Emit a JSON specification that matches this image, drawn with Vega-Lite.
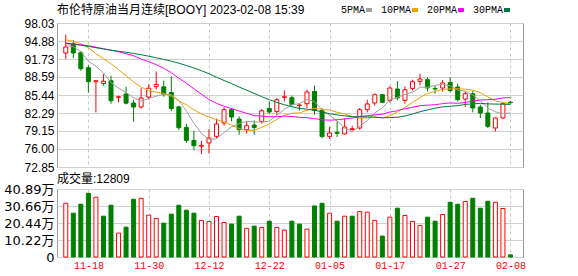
{
  "$schema": "https://vega.github.io/schema/vega-lite/v6.json",
  "padding": {"left": 3, "top": 3, "right": 0, "bottom": 0},
  "spacing": 22,
  "bounds": "flush",
  "background": "#ffffff",
  "config": {
    "view": {"stroke": "#9a9a9a", "strokeWidth": 1},
    "title": {"fontWeight": "normal", "color": "#000000", "anchor": "start", "frame": "group"}
  },
  "data": {"values": [
    {"i":0,"d":"11-15","o":92.78,"h":95.98,"l":91.73,"c":93.83,"v":323300,"vu":"u","ma5":94.06,"ma10":95.11,"ma20":94.41,"ma30":94.50},
    {"i":1,"d":"11-16","o":94.41,"h":95.02,"l":91.87,"c":92.78,"v":263400,"vu":"d","ma5":93.89,"ma10":94.81,"ma20":94.32,"ma30":94.32},
    {"i":2,"d":"11-17","o":92.84,"h":93.19,"l":89.69,"c":90.04,"v":317300,"vu":"d","ma5":93.01,"ma10":94.41,"ma20":94.24,"ma30":94.15},
    {"i":3,"d":"11-18","o":90.21,"h":90.74,"l":85.84,"c":87.77,"v":383200,"vu":"d","ma5":91.35,"ma10":93.71,"ma20":94.06,"ma30":93.94},
    {"i":4,"d":"11-21","o":87.77,"h":87.99,"l":82.40,"c":87.94,"v":359200,"vu":"u","ma5":90.47,"ma10":92.66,"ma20":93.80,"ma30":93.71},
    {"i":5,"d":"11-22","o":87.45,"h":89.08,"l":87.07,"c":87.85,"v":245500,"vu":"d","ma5":89.28,"ma10":91.79,"ma20":93.54,"ma30":93.48},
    {"i":6,"d":"11-23","o":87.94,"h":88.81,"l":83.92,"c":84.44,"v":311300,"vu":"d","ma5":87.61,"ma10":90.91,"ma20":93.27,"ma30":93.27},
    {"i":7,"d":"11-24","o":85.02,"h":85.32,"l":84.13,"c":85.14,"v":143700,"vu":"u","ma5":86.63,"ma10":89.86,"ma20":93.01,"ma30":93.10},
    {"i":8,"d":"11-25","o":85.61,"h":86.86,"l":83.80,"c":84.01,"v":179600,"vu":"d","ma5":85.88,"ma10":88.81,"ma20":92.66,"ma30":92.92},
    {"i":9,"d":"11-28","o":84.04,"h":84.62,"l":80.77,"c":83.34,"v":347200,"vu":"d","ma5":84.96,"ma10":87.71,"ma20":92.31,"ma30":92.71},
    {"i":10,"d":"11-29","o":83.34,"h":86.63,"l":83.04,"c":84.92,"v":353200,"vu":"u","ma5":84.37,"ma10":86.82,"ma20":91.70,"ma30":92.49},
    {"i":11,"d":"11-30","o":85.09,"h":87.29,"l":84.62,"c":86.63,"v":251500,"vu":"u","ma5":84.81,"ma10":86.21,"ma20":91.26,"ma30":92.22},
    {"i":12,"d":"12-01","o":86.89,"h":89.55,"l":86.37,"c":87.28,"v":231700,"vu":"u","ma5":85.24,"ma10":85.93,"ma20":90.74,"ma30":91.96},
    {"i":13,"d":"12-02","o":86.86,"h":87.94,"l":85.14,"c":85.58,"v":203600,"vu":"d","ma5":85.55,"ma10":85.71,"ma20":90.12,"ma30":91.66},
    {"i":14,"d":"12-05","o":85.88,"h":88.73,"l":82.61,"c":83.08,"v":257400,"vu":"d","ma5":85.50,"ma10":85.23,"ma20":89.34,"ma30":91.35},
    {"i":15,"d":"12-06","o":83.36,"h":83.57,"l":79.32,"c":79.72,"v":311300,"vu":"d","ma5":84.46,"ma10":84.41,"ma20":88.38,"ma30":91.00},
    {"i":16,"d":"12-07","o":79.77,"h":80.42,"l":77.05,"c":77.50,"v":281400,"vu":"d","ma5":82.63,"ma10":83.72,"ma20":87.50,"ma30":90.60},
    {"i":17,"d":"12-08","o":77.50,"h":79.20,"l":75.75,"c":76.57,"v":263400,"vu":"d","ma5":80.49,"ma10":82.86,"ma20":86.54,"ma30":90.16},
    {"i":18,"d":"12-09","o":76.49,"h":77.45,"l":75.12,"c":76.63,"v":219700,"vu":"u","ma5":78.70,"ma10":82.13,"ma20":85.58,"ma30":89.69},
    {"i":19,"d":"12-12","o":77.05,"h":79.49,"l":75.18,"c":77.92,"v":213700,"vu":"u","ma5":77.67,"ma10":81.58,"ma20":84.65,"ma30":89.16},
    {"i":20,"d":"12-13","o":78.20,"h":81.30,"l":77.92,"c":80.37,"v":243700,"vu":"u","ma5":77.80,"ma10":81.13,"ma20":83.98,"ma30":88.55},
    {"i":21,"d":"12-14","o":80.54,"h":83.34,"l":80.07,"c":82.87,"v":207700,"vu":"u","ma5":78.87,"ma10":80.75,"ma20":83.48,"ma30":87.98},
    {"i":22,"d":"12-15","o":82.87,"h":83.17,"l":80.82,"c":81.59,"v":197600,"vu":"d","ma5":79.88,"ma10":80.18,"ma20":83.06,"ma30":87.42},
    {"i":23,"d":"12-16","o":81.24,"h":81.70,"l":78.50,"c":79.37,"v":245500,"vu":"d","ma5":80.42,"ma10":79.56,"ma20":82.64,"ma30":86.84},
    {"i":24,"d":"12-19","o":79.37,"h":80.77,"l":78.73,"c":80.07,"v":171800,"vu":"u","ma5":80.85,"ma10":79.26,"ma20":82.24,"ma30":86.28},
    {"i":25,"d":"12-20","o":80.19,"h":81.00,"l":78.50,"c":79.77,"v":185600,"vu":"d","ma5":80.73,"ma10":79.27,"ma20":81.84,"ma30":85.72},
    {"i":26,"d":"12-21","o":80.82,"h":82.99,"l":80.42,"c":82.69,"v":177800,"vu":"u","ma5":80.70,"ma10":79.79,"ma20":81.75,"ma30":85.14},
    {"i":27,"d":"12-22","o":83.10,"h":84.32,"l":82.17,"c":82.47,"v":215500,"vu":"d","ma5":80.87,"ma10":80.38,"ma20":81.62,"ma30":84.62},
    {"i":28,"d":"12-23","o":82.57,"h":84.92,"l":82.00,"c":84.62,"v":177800,"vu":"u","ma5":81.92,"ma10":81.17,"ma20":81.65,"ma30":84.15},
    {"i":29,"d":"12-27","o":85.02,"h":86.24,"l":84.32,"c":85.14,"v":161600,"vu":"u","ma5":82.94,"ma10":81.90,"ma20":81.74,"ma30":83.73},
    {"i":30,"d":"12-28","o":84.97,"h":85.32,"l":83.57,"c":83.80,"v":215500,"vu":"d","ma5":83.74,"ma10":82.24,"ma20":81.68,"ma30":83.40},
    {"i":31,"d":"12-29","o":83.57,"h":83.92,"l":82.75,"c":83.69,"v":197600,"vu":"d","ma5":83.94,"ma10":82.32,"ma20":81.54,"ma30":83.09},
    {"i":32,"d":"12-30","o":83.92,"h":86.37,"l":83.17,"c":85.96,"v":167600,"vu":"u","ma5":84.64,"ma10":82.76,"ma20":81.47,"ma30":82.96},
    {"i":33,"d":"01-03","o":86.07,"h":87.07,"l":82.00,"c":82.75,"v":307100,"vu":"d","ma5":84.27,"ma10":83.10,"ma20":81.33,"ma30":82.79},
    {"i":34,"d":"01-04","o":82.75,"h":83.17,"l":77.85,"c":78.20,"v":323300,"vu":"d","ma5":82.88,"ma10":82.91,"ma20":81.09,"ma30":82.47},
    {"i":35,"d":"01-05","o":78.20,"h":79.84,"l":77.75,"c":78.80,"v":263400,"vu":"u","ma5":81.88,"ma10":82.81,"ma20":81.04,"ma30":82.16},
    {"i":36,"d":"01-06","o":78.90,"h":80.82,"l":78.10,"c":78.73,"v":215500,"vu":"d","ma5":80.89,"ma10":82.42,"ma20":81.10,"ma30":81.97},
    {"i":37,"d":"01-09","o":78.62,"h":81.35,"l":78.50,"c":79.84,"v":245500,"vu":"u","ma5":79.66,"ma10":82.15,"ma20":81.26,"ma30":81.80},
    {"i":38,"d":"01-10","o":79.42,"h":80.07,"l":79.20,"c":79.55,"v":245500,"vu":"d","ma5":79.02,"ma10":81.65,"ma20":81.41,"ma30":81.65},
    {"i":39,"d":"01-11","o":79.67,"h":83.17,"l":79.37,"c":82.87,"v":273600,"vu":"u","ma5":79.96,"ma10":81.42,"ma20":81.66,"ma30":81.63},
    {"i":40,"d":"01-12","o":82.87,"h":84.62,"l":82.40,"c":83.87,"v":269400,"vu":"u","ma5":80.97,"ma10":81.43,"ma20":81.83,"ma30":81.60},
    {"i":41,"d":"01-13","o":84.04,"h":85.72,"l":83.57,"c":85.49,"v":219700,"vu":"u","ma5":82.32,"ma10":81.61,"ma20":81.96,"ma30":81.56},
    {"i":42,"d":"01-16","o":85.49,"h":85.61,"l":84.04,"c":84.15,"v":125700,"vu":"d","ma5":83.19,"ma10":81.43,"ma20":82.09,"ma30":81.46},
    {"i":43,"d":"01-17","o":84.50,"h":86.94,"l":84.15,"c":86.66,"v":239500,"vu":"u","ma5":84.61,"ma10":81.82,"ma20":82.46,"ma30":81.49},
    {"i":44,"d":"01-18","o":86.49,"h":87.89,"l":84.50,"c":84.92,"v":293400,"vu":"d","ma5":85.02,"ma10":82.49,"ma20":82.70,"ma30":81.55},
    {"i":45,"d":"01-19","o":84.50,"h":86.94,"l":83.92,"c":86.37,"v":249500,"vu":"u","ma5":85.52,"ma10":83.25,"ma20":83.03,"ma30":81.77},
    {"i":46,"d":"01-20","o":86.59,"h":88.12,"l":86.24,"c":87.77,"v":213700,"vu":"u","ma5":85.97,"ma10":84.15,"ma20":83.28,"ma30":82.12},
    {"i":47,"d":"01-23","o":87.82,"h":89.16,"l":87.12,"c":88.24,"v":189800,"vu":"u","ma5":86.79,"ma10":84.99,"ma20":83.57,"ma30":82.51},
    {"i":48,"d":"01-24","o":88.12,"h":88.59,"l":86.07,"c":86.66,"v":239500,"vu":"d","ma5":86.79,"ma10":85.70,"ma20":83.67,"ma30":82.84},
    {"i":49,"d":"01-25","o":86.59,"h":87.07,"l":85.67,"c":86.49,"v":215500,"vu":"d","ma5":87.11,"ma10":86.06,"ma20":83.74,"ma30":83.13},
    {"i":50,"d":"01-26","o":86.66,"h":88.06,"l":86.02,"c":87.54,"v":255600,"vu":"u","ma5":87.34,"ma10":86.43,"ma20":83.93,"ma30":83.36},
    {"i":51,"d":"01-27","o":87.64,"h":88.59,"l":85.89,"c":86.24,"v":329300,"vu":"d","ma5":87.03,"ma10":86.50,"ma20":84.06,"ma30":83.48},
    {"i":52,"d":"01-30","o":86.84,"h":87.42,"l":84.32,"c":84.62,"v":317300,"vu":"d","ma5":86.31,"ma10":86.55,"ma20":83.99,"ma30":83.58},
    {"i":53,"d":"01-31","o":84.74,"h":86.02,"l":83.34,"c":85.67,"v":333500,"vu":"u","ma5":86.11,"ma10":86.45,"ma20":84.13,"ma30":83.79},
    {"i":54,"d":"02-01","o":85.67,"h":86.14,"l":82.40,"c":83.17,"v":353200,"vu":"d","ma5":85.45,"ma10":86.28,"ma20":84.38,"ma30":83.89},
    {"i":55,"d":"02-02","o":83.34,"h":83.74,"l":81.42,"c":82.29,"v":293400,"vu":"d","ma5":84.40,"ma10":85.87,"ma20":84.56,"ma30":83.98},
    {"i":56,"d":"02-03","o":82.29,"h":84.15,"l":79.67,"c":79.95,"v":335300,"vu":"d","ma5":83.14,"ma10":85.09,"ma20":84.62,"ma30":83.88},
    {"i":57,"d":"02-06","o":79.67,"h":81.52,"l":79.08,"c":81.42,"v":329300,"vu":"u","ma5":82.50,"ma10":84.41,"ma20":84.70,"ma30":83.85},
    {"i":58,"d":"02-07","o":81.42,"h":84.04,"l":81.30,"c":83.92,"v":291600,"vu":"u","ma5":82.15,"ma10":84.13,"ma20":84.92,"ma30":83.83},
    {"i":59,"d":"02-08","o":84.18,"h":84.39,"l":83.92,"c":84.09,"v":12809,"vu":"d","ma5":82.33,"ma10":83.89,"ma20":84.98,"ma30":83.79}
  ]},
  "vconcat": [
    {
      "width": 466,
      "height": 144,
      "title": {"text": "布伦特原油当月连续[BOOY] 2023-02-08 15:39", "font": "Liberation Sans, Noto Sans CJK SC", "fontSize": 12, "offset": -12},
      "resolve": {"scale": {"color": "independent"}},
      "encoding": {
        "x": {"field": "i", "type": "quantitative", "scale": {"domain": [-0.5, 60], "nice": false, "zero": false},
              "axis": {"values": [3, 11, 19, 27, 35, 43, 51, 59], "labels": false, "ticks": false, "domain": false, "grid": true, "gridDash": [3, 3], "gridColor": "#c8c8c8", "title": null}}
      },
      "layer": [
        {
          "mark": {"type": "rule", "strokeWidth": 1},
          "encoding": {
            "y": {"field": "l", "type": "quantitative", "scale": {"domain": [72.85, 98.03], "nice": false, "zero": false},
                  "axis": {"values": [72.85, 76, 79.15, 82.29, 85.44, 88.59, 91.73, 94.88, 98.03], "format": ".2f", "title": null, "grid": true, "gridColor": "#d0d0d0", "ticks": false, "domain": false, "labelPadding": 3, "labelFont": "Liberation Sans", "labelFontSize": 12, "labelColor": "#000000", "labelFlush": false, "labelOverlap": false}},
            "y2": {"field": "h"},
            "stroke": {"condition": {"test": "datum.c >= datum.o", "value": "#ff0000"}, "value": "#008000"}
          }
        },
        {
          "mark": {"type": "bar", "size": 4, "strokeWidth": 1, "orient": "vertical"},
          "encoding": {
            "y": {"field": "o", "type": "quantitative", "scale": {"domain": [72.85, 98.03], "nice": false, "zero": false},
                  "axis": {"values": [72.85, 76, 79.15, 82.29, 85.44, 88.59, 91.73, 94.88, 98.03], "format": ".2f", "title": null, "grid": true, "gridColor": "#d0d0d0", "ticks": false, "domain": false, "labelPadding": 3, "labelFont": "Liberation Sans", "labelFontSize": 12, "labelColor": "#000000", "labelFlush": false, "labelOverlap": false}},
            "y2": {"field": "c"},
            "fill": {"condition": {"test": "datum.c >= datum.o", "value": "#ffffff"}, "value": "#008000"},
            "stroke": {"condition": {"test": "datum.c >= datum.o", "value": "#ff0000"}, "value": "#008000"}
          }
        },
        {
          "transform": [{"fold": ["ma5", "ma10", "ma20", "ma30"], "as": ["k", "val"]}],
          "mark": {"type": "line", "strokeWidth": 1},
          "encoding": {
            "y": {"field": "val", "type": "quantitative", "scale": {"domain": [72.85, 98.03], "nice": false, "zero": false},
                  "axis": {"values": [72.85, 76, 79.15, 82.29, 85.44, 88.59, 91.73, 94.88, 98.03], "format": ".2f", "title": null, "grid": true, "gridColor": "#d0d0d0", "ticks": false, "domain": false, "labelPadding": 3, "labelFont": "Liberation Sans", "labelFontSize": 12, "labelColor": "#000000", "labelFlush": false, "labelOverlap": false}},
            "color": {"field": "k", "type": "nominal",
                      "scale": {"domain": ["ma5", "ma10", "ma20", "ma30"], "range": ["#a0a0a0", "#f0a000", "#ff00ff", "#007a3d"]},
                      "legend": {"orient": "none", "legendX": 307, "legendY": -18, "direction": "horizontal", "title": null, "padding": 0,
                                 "symbolType": "stroke", "symbolSize": 36, "symbolStrokeWidth": 4,
                                 "labelFont": "Liberation Mono", "labelFontSize": 10, "labelColor": "#000000",
                                 "labelAlign": "right", "labelOffset": -9, "columnPadding": 0,
                                 "labelExpr": "replace(datum.label, 'ma', '') + 'PMA'",
                                 "encode": {"symbols": {"update": {"strokeWidth": {"value": 4}}}}}}
          }
        }
      ]
    },
    {
      "width": 466,
      "height": 68,
      "title": {"text": "成交量:12809", "font": "Liberation Sans, Noto Sans CJK SC", "fontSize": 12, "offset": -3},
      "mark": {"type": "bar", "size": 4, "strokeWidth": 1, "orient": "vertical"},
      "encoding": {
        "x": {"field": "i", "type": "quantitative", "scale": {"domain": [-0.5, 60], "nice": false, "zero": false},
              "axis": {"values": [3, 11, 19, 27, 35, 43, 51, 59], "ticks": false, "domain": false, "grid": true, "gridDash": [3, 3], "gridColor": "#c8c8c8", "title": null,
                       "labelExpr": "['11-18','11-30','12-12','12-22','01-05','01-17','01-27','02-08'][(datum.value - 3) / 8]",
                       "labelColor": "#ff0000", "labelFont": "Liberation Mono", "labelFontSize": 10, "labelPadding": 3, "labelFlush": false, "labelOverlap": false}},
        "y": {"field": "v", "type": "quantitative", "scale": {"domain": [0, 408900], "nice": false, "zero": true},
              "axis": {"values": [0, 102200, 204400, 306600, 408900], "title": null, "grid": true, "gridColor": "#d0d0d0", "ticks": false, "domain": false, "labelPadding": 3,
                       "labelExpr": "datum.value == 0 ? '0' : format(datum.value / 10000, '.2f') + '万'",
                       "labelFont": "DejaVu Sans, Noto Sans CJK SC", "labelFontSize": 13, "labelColor": "#000000", "labelFlush": false, "labelOverlap": false}},
        "fill": {"condition": {"test": "datum.vu == 'u'", "value": "#ffffff"}, "value": "#008000"},
        "stroke": {"condition": {"test": "datum.vu == 'u'", "value": "#ff0000"}, "value": "#008000"}
      }
    }
  ]
}
